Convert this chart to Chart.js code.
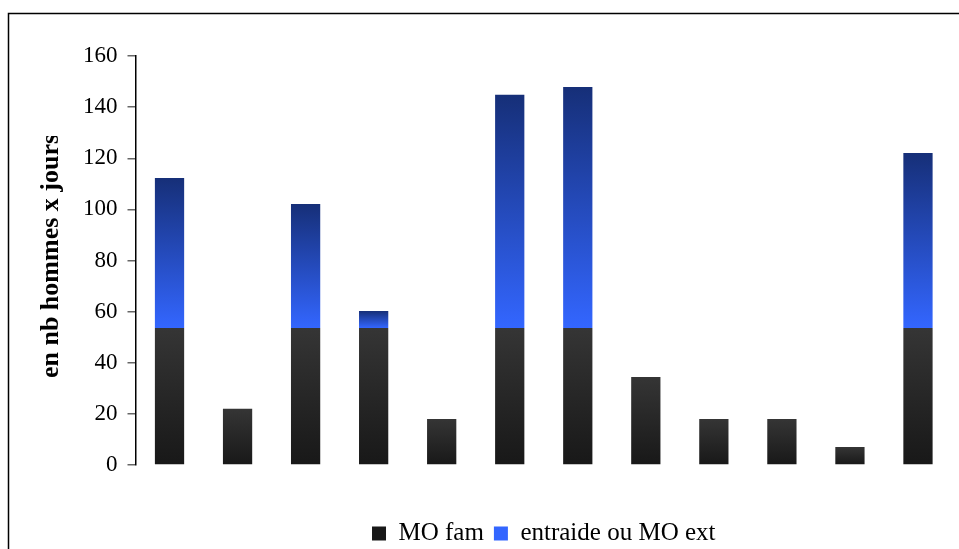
<!DOCTYPE html>
<html>
<head>
<meta charset="utf-8">
<script src="https://cdn.jsdelivr.net/npm/chart.js@4.4.1/dist/chart.umd.min.js"></script>
<style>
  html, body { margin: 0; padding: 0; background: #fff; overflow: hidden; }
  #wrap { width: 959px; height: 549px; }
</style>
</head>
<body>
<div id="wrap"><canvas id="moChart" width="959" height="549"></canvas></div>
<script>
// 12 exploitations, no labels shown on the x axis
const categories = ['E1', 'E2', 'E3', 'E4', 'E5', 'E6', 'E7', 'E8', 'E9', 'E10', 'E11', 'E12'];
const famValues = [53.6, 22, 53.6, 53.6, 18, 53.6, 53.6, 34.4, 18, 18, 7, 53.6];
const extValues = [58.7, 0, 48.5, 6.6, 0, 91.2, 94.3, 0, 0, 0, 0, 68.5];
const yTicks = [0, 20, 40, 60, 80, 100, 120, 140, 160];
const yTitle = 'en nb hommes x jours';

const SERIF = "'Liberation Serif', 'Times New Roman', serif";

function barGradient(context, top, bottom, colTop, colBottom, solid) {
    if (context.dataIndex === undefined) return solid;
    const chart = context.chart;
    if (!chart.chartArea || !chart.scales.y) return solid;
    const y = chart.scales.y;
    const t = y.getPixelForValue(top);
    const b = y.getPixelForValue(bottom);
    if (b - t < 1) return solid;
    const g = chart.ctx.createLinearGradient(0, t, 0, b);
    g.addColorStop(0, colTop);
    g.addColorStop(1, colBottom);
    return g;
}

// border of the chart frame (only top and left visible)
const framePlugin = {
    id: 'frame',
    beforeDraw(chart) {
        const ctx = chart.ctx;
        ctx.save();
        ctx.strokeStyle = '#000';
        ctx.lineWidth = 1.5;
        ctx.beginPath();
        ctx.moveTo(8.5, chart.height);
        ctx.lineTo(8.5, 13.5);
        ctx.lineTo(chart.width, 13.5);
        ctx.stroke();
        ctx.restore();
    }
};

// legend centred under the plot area, not the whole canvas
const legendShift = {
    id: 'legendShift',
    afterLayout(chart) {
        chart.legend.left = chart.chartArea.left;
        chart.legend.right = chart.chartArea.right;
    }
};

// y title drawn by hand: it is cut at the top in the original
const yTitlePlugin = {
    id: 'yTitle',
    afterDraw(chart) {
        const ctx = chart.ctx;
        ctx.save();
        ctx.beginPath();
        ctx.rect(20, 136, 60, 300);
        ctx.clip();
        ctx.translate(58, 256);
        ctx.rotate(-Math.PI / 2);
        ctx.fillStyle = '#000';
        ctx.font = 'bold 26px ' + SERIF;
        ctx.textAlign = 'center';
        ctx.textBaseline = 'alphabetic';
        ctx.fillText(yTitle, 0, 0);
        ctx.restore();
    }
};

new Chart(document.getElementById('moChart'), {
    type: 'bar',
    data: {
        labels: categories,
        datasets: [{
            label: 'MO fam',
            data: famValues,
            backgroundColor: function(c) {
                return barGradient(c, famValues[c.dataIndex], 0, '#353535', '#181818', '#262626');
            },
            barPercentage: 0.43,
            categoryPercentage: 1
        }, {
            label: 'entraide ou MO ext',
            data: extValues,
            backgroundColor: function(c) {
                const i = c.dataIndex;
                return barGradient(c, famValues[i] + extValues[i], famValues[i], '#162f78', '#3366ff', '#2447c0');
            },
            barPercentage: 0.43,
            categoryPercentage: 1
        }]
    },
    options: {
        responsive: false,
        animation: false,
        layout: {
            padding: { left: 73, right: 7, top: 56, bottom: -7 }
        },
        scales: {
            x: {
                stacked: true,
                grid: { display: false },
                border: { display: false },
                ticks: { display: false },
                afterFit: function(axis) { axis.height = 46; }
            },
            y: {
                stacked: true,
                min: 0,
                max: 160,
                afterBuildTicks: function(axis) {
                    axis.ticks = yTicks.map(v => ({ value: v }));
                },
                border: { display: true, color: '#000', width: 1.5 },
                grid: {
                    drawOnChartArea: false,
                    drawTicks: true,
                    tickLength: 8,
                    color: '#666',
                    lineWidth: 1.5
                },
                ticks: {
                    color: '#000',
                    padding: 10,
                    font: { family: SERIF, size: 23 }
                }
            }
        },
        plugins: {
            legend: {
                position: 'bottom',
                labels: {
                    color: '#000',
                    boxWidth: 14,
                    boxHeight: 14,
                    padding: 10,
                    font: { family: SERIF, size: 25 }
                }
            },
            tooltip: { enabled: false }
        }
    },
    plugins: [framePlugin, legendShift, yTitlePlugin]
});
</script>
</body>
</html>
